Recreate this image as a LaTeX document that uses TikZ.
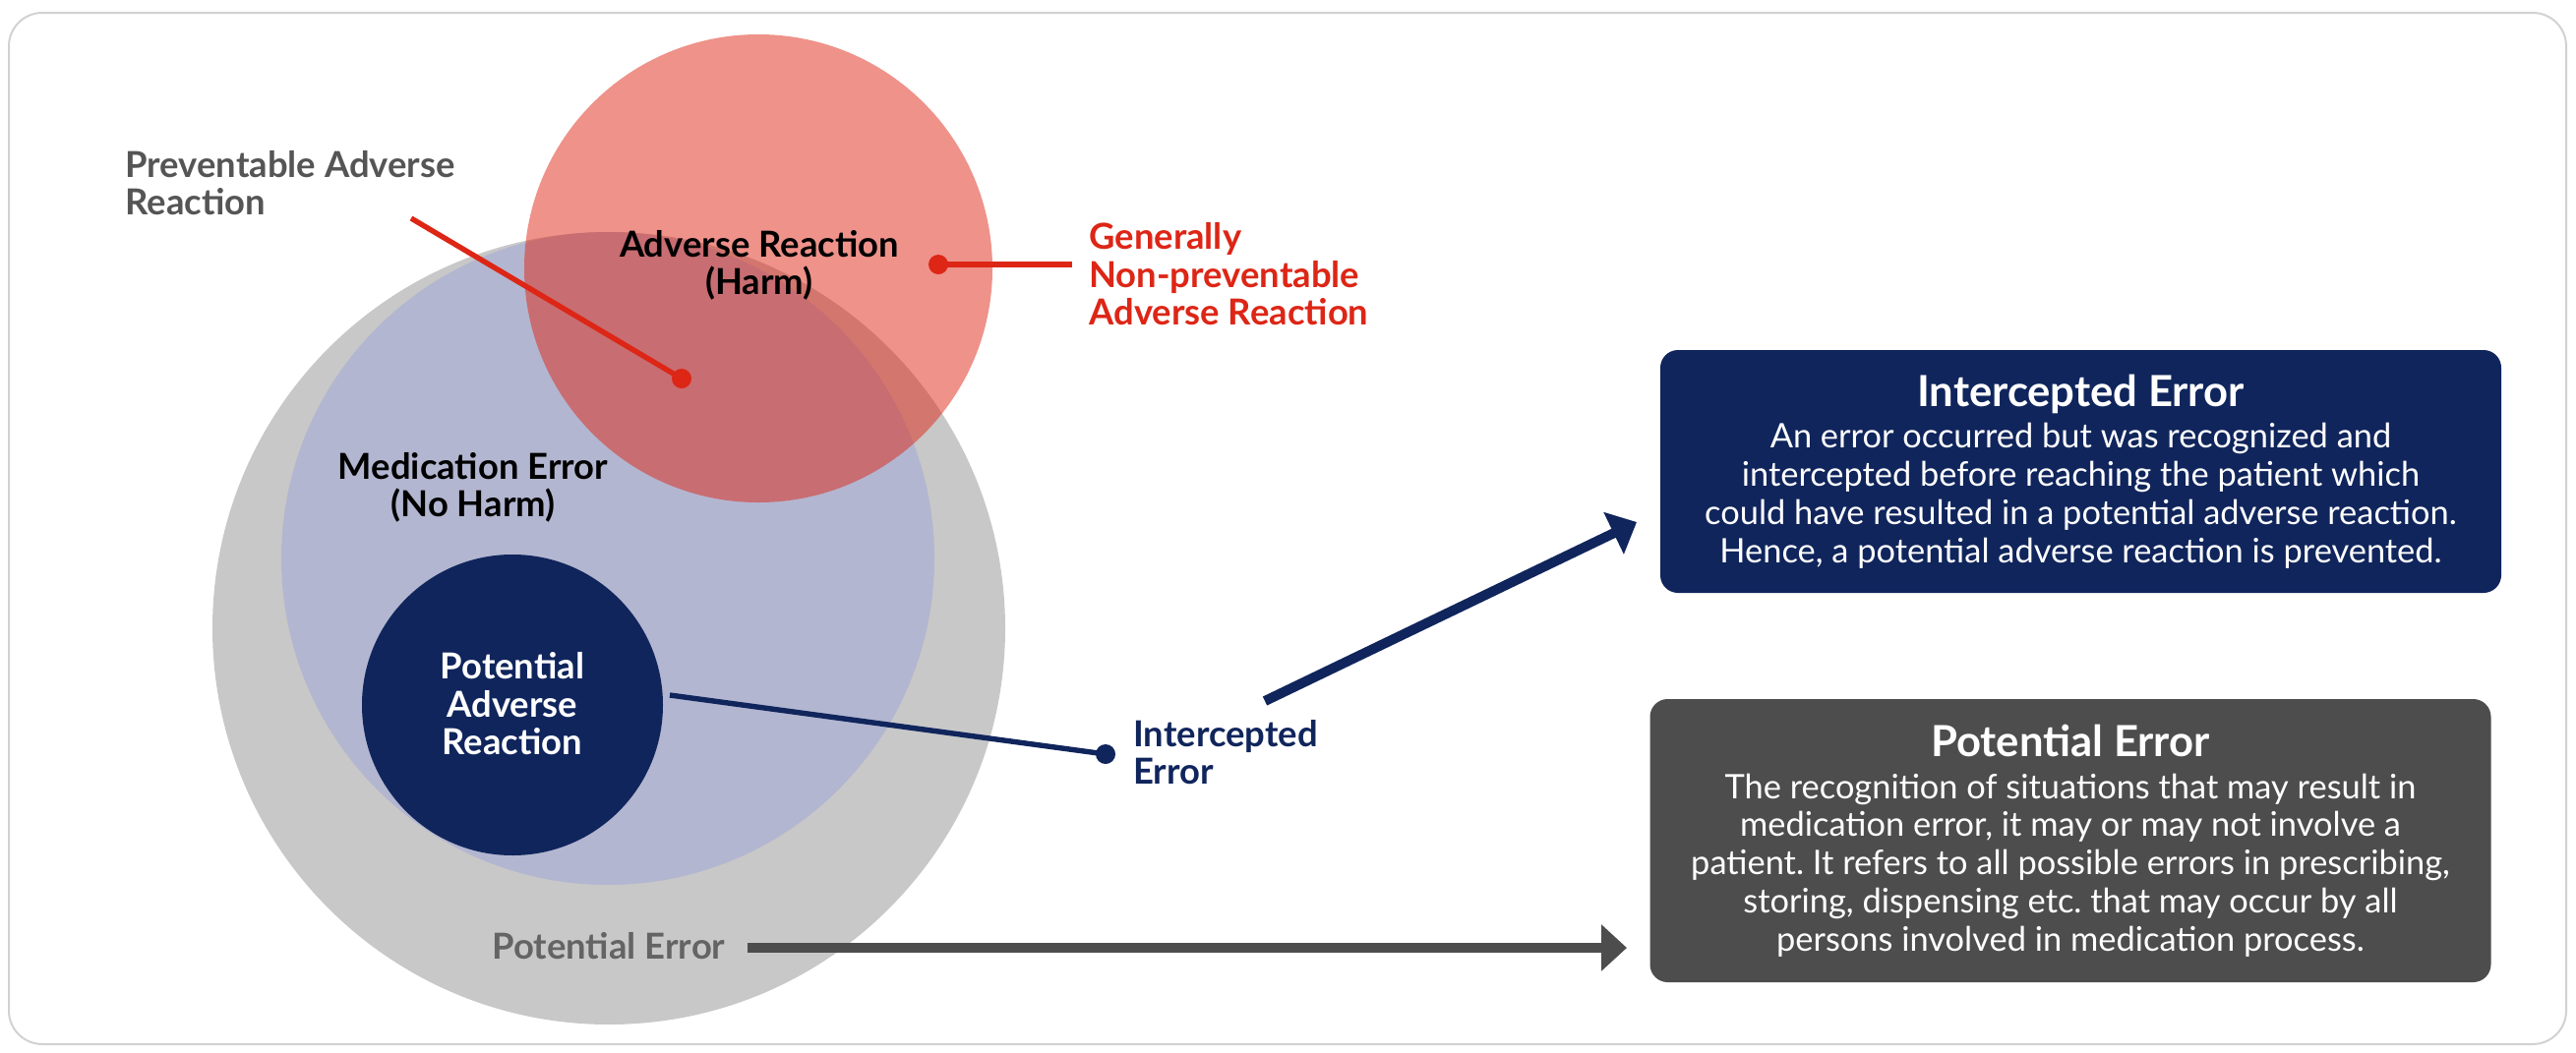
\documentclass[tikz,border=0pt]{standalone}
\usepackage{fontspec}
\setmainfont{Lato}
\usetikzlibrary{arrows.meta}
\frenchspacing
\definecolor{navy}{RGB}{16,37,92}
\definecolor{harmred}{RGB}{221,38,22}
\definecolor{errgray}{RGB}{200,200,200}
\definecolor{lavender}{RGB}{179,182,208}
\definecolor{boxgray}{RGB}{77,77,77}
\definecolor{labelgray}{RGB}{85,85,85}
\definecolor{pegray}{RGB}{100,100,100}
\definecolor{framegray}{RGB}{210,210,210}

\begin{document}
\begin{tikzpicture}[x=0.5pt, y=-0.5pt,
  % #1 = radius in pixels of the drawing grid (1 px = 0.5pt)
  disc/.style={circle, inner sep=0pt, minimum size=#1pt},
  lbl/.style={inner sep=0pt, font=\bfseries\fontsize{18.2}{19.2}\selectfont},
  dot/.style={circle, inner sep=0pt, minimum size=10pt, fill=#1},
  infobox/.style={rounded corners=9pt, inner sep=0pt, text=white,
    minimum width=427.5pt, align=center,
    font=\fontsize{17.2}{19.4}\selectfont},
  boxtitle/.style={font=\bfseries\fontsize{21.8}{23}\selectfont},
  bigarrow/.style={line width=5pt, -{Triangle[length=13pt, width=23pt]}}
]
\useasboundingbox (0,0) rectangle (2619,1071);

% outer frame
\draw[framegray, line width=1pt, rounded corners=17pt] (9,13) rectangle (2609,1062);

% nested sets
\node[disc=403, fill=errgray] (perr) at (619,639) {};
\node[disc=332, fill=lavender] (medr) at (618,568) {};
\node[disc=153, fill=navy] (pavr) at (521,717) {};
\node[disc=238, fill=harmred, fill opacity=0.5] (harm) at (771,273) {};

% labels inside the circles
\node[lbl, align=center] (harmtxt) at (772,270) {Adverse Reaction\\(Harm)};
\node[lbl, align=center] (medtxt) at (481,496) {Medication Error\\(No Harm)};
\node[lbl, align=center, text=white] (pavtxt) at (521,716) {Potential\\Adverse\\Reaction};
\node[lbl, text=pegray] (petxt) at (619,962) {Potential Error};

% preventable adverse reaction callout
\node[lbl, align=left, anchor=west, text=labelgray] (prevtxt) at (127,186)
  {Preventable Adverse\\Reaction};
\coordinate (prev0) at (418,222);
\node[dot=harmred] (prevdot) at (693,385) {};
\draw[harmred, line width=2.7pt] (prev0) -- (prevdot.center);

% non-preventable callout
\node[dot=harmred] (npdot) at (954,269) {};
\coordinate (np1) at (1090,269);
\draw[harmred, line width=2.7pt] (npdot.center) -- (np1);
\node[lbl, align=left, anchor=west, text=harmred] (nptxt) at (1107,279)
  {Generally\\Non-preventable\\Adverse Reaction};

% intercepted error callout
\coordinate (ic0) at (681,707);
\node[dot=navy] (icdot) at (1124,767) {};
\draw[navy, line width=2.7pt] (ic0) -- (icdot.center);
\node[lbl, align=left, anchor=west, text=navy] (ictxt) at (1152,765)
  {Intercepted\\Error};

% definition boxes
\node[infobox, fill=navy, minimum height=123.5pt] (icbox) at (2115.5,479.5)
  {{\bfseries\fontsize{21.8}{23}\selectfont Intercepted Error}\\[2pt]
   An error occurred but was recognized and\\
   intercepted before reaching the patient which\\
   could have resulted in a potential adverse reaction.\\
   Hence, a potential adverse reaction is prevented.};
\node[infobox, fill=boxgray, minimum height=144pt] (pebox) at (2105,855)
  {{\bfseries\fontsize{21.8}{23}\selectfont Potential Error}\\[2pt]
   The recognition of situations that may result in\\
   medication error, it may or may not involve a\\
   patient. It refers to all possible errors in prescribing,\\
   storing, dispensing etc. that may occur by all\\
   persons involved in medication process.};

% arrows to the boxes
\coordinate (ia0) at (1286,713);
\coordinate (ia1) at (1664,531);
\draw[navy, bigarrow] (ia0) -- (ia1);
\coordinate (pa0) at (760,964);
\coordinate (pa1) at (1654,964);
\draw[boxgray, bigarrow] (pa0) -- (pa1);
\end{tikzpicture}
\end{document}
